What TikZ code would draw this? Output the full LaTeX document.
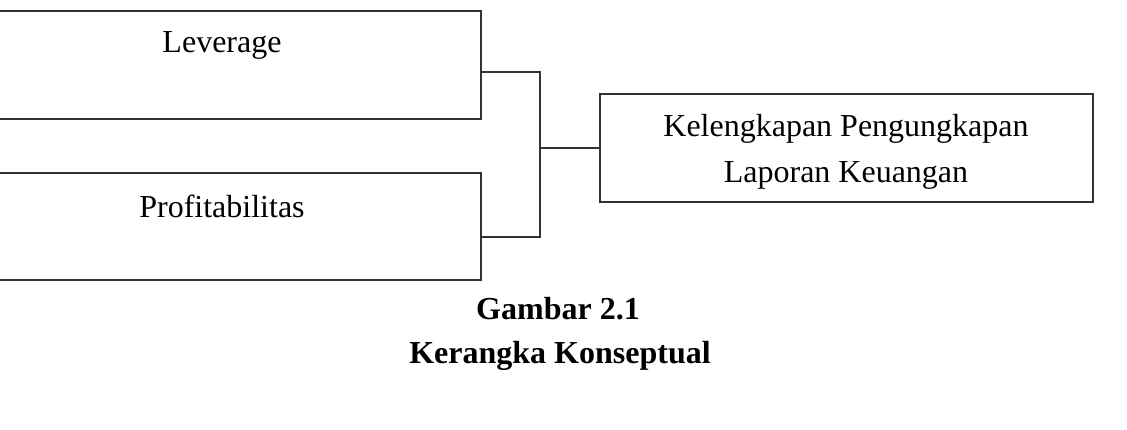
\documentclass[tikz,border=0pt]{standalone}
\usepackage{fontspec}
\setmainfont{Liberation Serif}
\begin{document}
\begin{tikzpicture}[x=1pt,y=-1pt,
  box/.style={draw=black!80,line width=1.8pt,rectangle,inner sep=0pt,anchor=north west},
  txt/.style={font=\fontsize{32}{46}\selectfont,inner sep=0pt,align=center},
  captxt/.style={font=\fontsize{32}{44}\selectfont\bfseries,inner sep=0pt},
  conn/.style={draw=black!80,line width=1.8pt}]
\useasboundingbox (0,0) rectangle (1127,429);
\node[box,minimum width=490pt,minimum height=108pt] (lev) at (-10,10) {};
\node[box,minimum width=490pt,minimum height=107pt] (prof) at (-10,172) {};
\node[box,minimum width=493pt,minimum height=108pt] (kel) at (599,93) {};
\node[txt] (levt) at (222,45) {Leverage};
\node[txt] (proft) at (222,206) {Profitabilitas};
\node[txt] (kelt) at (846,152) {Kelengkapan Pengungkapan\\Laporan Keuangan};
\coordinate (jt) at (540,72);
\coordinate (jb) at (540,237);
\coordinate (j) at (jt |- kel.west);
\draw[conn] (lev.east |- jt) -- (jt) -- (jb) -- (prof.east |- jb);
\draw[conn] (j) -- (kel.west);
\node[captxt] (c1) at (558,309) {Gambar 2.1};
\node[captxt] (c2) at (560,356) {Kerangka Konseptual};
\end{tikzpicture}
\end{document}
